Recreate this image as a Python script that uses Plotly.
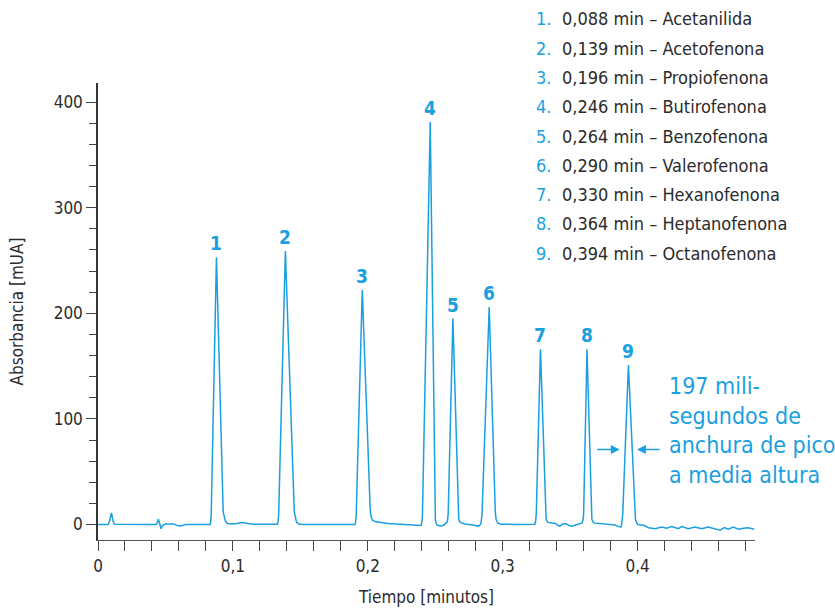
import plotly.graph_objects as go

# ---------------- data ----------------
peak_numbers = [1, 2, 3, 4, 5, 6, 7, 8, 9]
retention_times = [0.088, 0.139, 0.196, 0.246, 0.264, 0.290, 0.330, 0.364, 0.394]
# apex positions / heights as drawn in the picture
apex_times = [0.0878, 0.1389, 0.1959, 0.2463, 0.2631, 0.2900, 0.3280, 0.3625, 0.3932]
peak_heights = [253, 259, 222, 381, 195, 206, 166, 166, 151]
compounds = ["Acetanilida", "Acetofenona", "Propiofenona", "Butirofenona", "Benzofenona",
             "Valerofenona", "Hexanofenona", "Heptanofenona", "Octanofenona"]

# chromatogram trace (time in min, absorbance in mUA)
trace_time = [
    0.0000, 0.0075, 0.0085, 0.0100, 0.0112, 0.0122, 0.0430, 0.0440, 0.0448, 0.0458,
    0.0468, 0.0478, 0.0500, 0.0560, 0.0600, 0.0625, 0.0650, 0.0830,
    0.0834, 0.0839, 0.0878, 0.0928, 0.0935, 0.0945, 0.0960, 0.0990, 0.1030, 0.1070, 0.1110, 0.1150,
    0.1330, 0.1334, 0.1339, 0.1389, 0.1455, 0.1462, 0.1472, 0.1490, 0.1520,
    0.1905, 0.1909, 0.1914, 0.1959, 0.2018, 0.2025, 0.2035, 0.2060, 0.2150, 0.2300, 0.2375, 0.2395,
    0.2400, 0.2405, 0.2463, 0.2495, 0.2501, 0.2510, 0.2522, 0.2545, 0.2565, 0.2590, 0.2596,
    0.2631, 0.2668, 0.2674, 0.2685, 0.2720, 0.2780, 0.2820, 0.2835, 0.2841, 0.2847,
    0.2900, 0.2945, 0.2951, 0.2962, 0.2985, 0.3100, 0.3238, 0.3244, 0.3249,
    0.3280, 0.3316, 0.3322, 0.3334, 0.3360, 0.3390, 0.3410, 0.3425, 0.3440, 0.3460, 0.3480,
    0.3500, 0.3520, 0.3545, 0.3575, 0.3588, 0.3595, 0.3600,
    0.3625, 0.3655, 0.3661, 0.3673, 0.3720, 0.3780, 0.3830, 0.3860, 0.3876, 0.3882, 0.3886, 0.3890,
    0.3932, 0.3978, 0.3984, 0.3995, 0.4005,
    0.4025, 0.4050, 0.4080, 0.4130, 0.4179, 0.4216, 0.4253, 0.4302, 0.4327, 0.4376, 0.4426,
    0.4476, 0.4524, 0.4574, 0.4611, 0.4643, 0.4673, 0.4710, 0.4747, 0.4784, 0.4821, 0.4865,
]
trace_abs = [
    0, 0, 3, 11, 3, 0.3, 0, 2, 5, 0,
    -4, -1, 0.5, 0.5, -1.5, -1, 0, 0,
    1, 8, 253, 12, 7, 3, 1, 0.5, 1, 2, 1, 0.3,
    0.3, 2, 8, 259, 12, 6, 2, 0.5, 0,
    0, 2, 8, 222, 14, 7, 4, 2.5, 1, -0.5, -1.5, -1,
    2, 8, 381, 10, 4, 0, -1, -1.5, -0.5, 3, 10,
    195, 12, 5, 2, 0.5, -0.5, -1.5, 0, 3, 10,
    206, 12, 5, 1.5, 0.3, 0, 0.3, 3, 10,
    166, 12, 5, 2, 1.5, 1, -1, -1.5, 0, 1, 0,
    -1.5, -1.5, -0.5, 1, 1.5, 4, 10,
    166, 12, 5, 1.5, 1, 0.5, -0.5, -2, -2.5, 0, 4, 10,
    151, 12, 5, 1, 0,
    -0.5, -1, -3, -4, -2.5, -3.5, -2, -4, -2, -4, -2.5,
    -4, -2.5, -4, -5.5, -3, -4.5, -2.5, -4.5, -3.5, -3, -4.5,
]

x_ticks = [0, 0.1, 0.2, 0.3, 0.4]
x_tick_labels = ["0", "0,1", "0,2", "0,3", "0,4"]
y_ticks = [0, 100, 200, 300, 400]

annotation_lines = ["197 mili-", "segundos de", "anchura de pico", "a media altura"]

# ---------------- style ----------------
BLUE = "#1a9fe0"
DARK = "#2b2b2b"
FONT = "Liberation Sans Narrow, DejaVu Sans Condensed, Roboto, sans-serif"

W, H = 835, 609
L, R, T, B = 97.5, 80, 83, 69
PW, PH = W - L - R, H - T - B


def px(xp):
    return (xp - L) / PW


def py(yp):
    return (H - B - yp) / PH


fig = go.Figure()
fig.add_trace(go.Scatter(x=trace_time, y=trace_abs, mode="lines",
                         line=dict(color=BLUE, width=1.5), hoverinfo="skip",
                         showlegend=False))

ann = []
# peak number labels
for n, t, h in zip(peak_numbers, apex_times, peak_heights):
    ann.append(dict(x=t, y=h, xref="x", yref="y", text=f"<b>{n}</b>", showarrow=False,
                    yanchor="bottom", xanchor="center", yshift=1,
                    font=dict(family=FONT, size=19, color=BLUE)))

# legend list
leg_y0, leg_dy = 19, 29.25
for i, (n, t, c) in enumerate(zip(peak_numbers, retention_times, compounds)):
    yy = py(leg_y0 + i * leg_dy)
    ann.append(dict(x=px(534), y=yy, xref="paper", yref="paper", text=f"{n}.",
                    showarrow=False, xanchor="left", yanchor="middle",
                    font=dict(family=FONT, size=18, color=BLUE)))
    tstr = f"{t:.3f}".replace(".", ",")
    ann.append(dict(x=px(560), y=yy, xref="paper", yref="paper",
                    text=f"{tstr} min – {c}", showarrow=False,
                    xanchor="left", yanchor="middle",
                    font=dict(family=FONT, size=18, color=DARK)))

# peak width annotation text
for i, line in enumerate(annotation_lines):
    ann.append(dict(x=px(667), y=py(386 + i * 29.5), xref="paper", yref="paper",
                    text=line, showarrow=False, xanchor="left", yanchor="middle",
                    font=dict(family=FONT, size=23, color=BLUE)))

# arrows at half height of peak 9
half = 71
ann.append(dict(x=0.3867, y=half, xref="x", yref="y", text="", showarrow=True,
                ax=-24, ay=0, arrowhead=2, arrowsize=1.1, arrowwidth=1.6,
                arrowcolor=BLUE))
ann.append(dict(x=0.3996, y=half, xref="x", yref="y", text="", showarrow=True,
                ax=24, ay=0, arrowhead=2, arrowsize=1.1, arrowwidth=1.6,
                arrowcolor=BLUE))

fig.update_layout(
    width=W, height=H,
    margin=dict(l=L, r=R, t=T, b=B, pad=0),
    paper_bgcolor="white", plot_bgcolor="white",
    font=dict(family=FONT, size=16, color=DARK),
    annotations=ann,
    showlegend=False,
)

fig.update_xaxes(
    range=[0, PW / 1350], tickvals=x_ticks, ticktext=x_tick_labels, automargin=False,
    ticks="outside", ticklen=10, tickwidth=1.2, tickcolor="#444",
    minor=dict(dtick=0.02, tick0=0, ticks="outside", ticklen=10, tickwidth=1.2, tickcolor="#444"),
    showline=True, linecolor="#555", linewidth=1.3,
    showgrid=False, zeroline=False,
    tickfont=dict(family=FONT, size=17, color=DARK),
    title=dict(text="Tiempo [minutos]", font=dict(family=FONT, size=17, color=DARK), standoff=16),
)
fig.update_yaxes(
    range=[-(H - B - 524.5) / 1.05625, (524.5 - T) / 1.05625], tickvals=y_ticks, automargin=False,
    ticks="outside", ticklen=10, tickwidth=1.2, tickcolor="#444",
    minor=dict(dtick=20, tick0=0, ticks="outside", ticklen=7, tickwidth=1.2, tickcolor="#444"),
    showline=True, linecolor="#333", linewidth=1.5,
    showgrid=False, zeroline=False,
    tickfont=dict(family=FONT, size=17, color=DARK),
    title=dict(text="Absorbancia [mUA]", font=dict(family=FONT, size=17, color=DARK), standoff=26),
)

fig.write_html("out.html")
